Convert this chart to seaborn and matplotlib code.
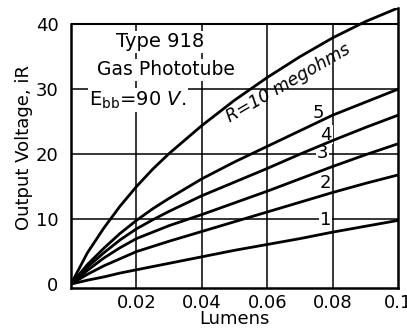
import matplotlib
matplotlib.use("Agg")
import matplotlib.pyplot as plt
import seaborn as sns
import pandas as pd

lumens = [0, 0.005, 0.01, 0.015, 0.02, 0.025, 0.03, 0.04, 0.05, 0.06, 0.07, 0.08, 0.09, 0.1]
r10 = [0, 4.8, 8.6, 12.0, 15.0, 17.7, 20.1, 24.4, 28.3, 31.8, 35.0, 37.9, 40.4, 42.5]
r5 = [0, 3.0, 5.5, 7.8, 9.8, 11.6, 13.2, 16.2, 18.8, 21.2, 23.6, 26.0, 28.0, 30.0]
r4 = [0, 2.6, 4.8, 6.8, 8.5, 9.9, 11.2, 13.6, 15.7, 17.8, 20.0, 22.1, 24.1, 26.0]
r3 = [0, 2.1, 4.0, 5.6, 7.0, 8.0, 9.0, 10.7, 12.5, 14.3, 16.2, 18.1, 19.9, 21.6]
r2 = [0, 1.5, 2.8, 3.9, 5.0, 5.8, 6.6, 8.1, 9.6, 11.1, 12.6, 14.1, 15.5, 16.8]
r1 = [0, 0.6, 1.1, 1.7, 2.2, 2.7, 3.2, 4.2, 5.2, 6.1, 7.0, 8.0, 8.9, 9.8]
series_names = ["10", "5", "4", "3", "2", "1"]
x_ticks = [0.02, 0.04, 0.06, 0.08, 0.1]
x_tick_labels = ["0.02", "0.04", "0.06", "0.08", "0.1"]
y_ticks = [0, 10, 20, 30, 40]

rows = []
for name, vals in zip(series_names, [r10, r5, r4, r3, r2, r1]):
    for xv, yv in zip(lumens, vals):
        rows.append({"Lumens": xv, "V": yv, "R": name})
df = pd.DataFrame(rows)

sns.set_style("white")
plt.rcParams["font.family"] = ["DejaVu Sans"]
plt.rcParams.update({"text.color": "black", "axes.labelcolor": "black",
                     "xtick.color": "black", "ytick.color": "black"})

fig = plt.figure(figsize=(4.07, 3.36), dpi=100)
ax = fig.add_axes([71/407, 48/336, (398-71)/407, (288-8)/336])

sns.lineplot(data=df, x="Lumens", y="V", hue="R", palette=["black"]*6,
             legend=False, linewidth=2.0, ax=ax, zorder=3)

ax.set_xlim(0, 0.1)
ax.set_ylim(-0.6, 42.5)

# grid
for xv in x_ticks[:-1]:
    ax.plot([xv, xv], [-0.6, 40], color="black", lw=1.1, zorder=1)
for yv in [10, 20, 30]:
    ax.plot([0, 0.1], [yv, yv], color="black", lw=1.1, zorder=1)
ax.plot([0, 0.1], [40, 40], color="black", lw=1.5, zorder=1)

for s in ["left", "right", "bottom"]:
    ax.spines[s].set_linewidth(1.8)
    ax.spines[s].set_color("black")
ax.spines["top"].set_visible(False)
ax.spines["left"].set_bounds(-0.6, 40)

ax.set_xticks(x_ticks)
ax.set_xticklabels(x_tick_labels)
ax.set_yticks(y_ticks)
ax.tick_params(axis="both", labelsize=13, length=0, pad=4)
ax.tick_params(axis="y", length=5, direction="out", width=1)
ax.set_xlabel("Lumens", fontsize=13, labelpad=-1)
ax.set_ylabel("Output Voltage, iR", fontsize=13, labelpad=2)

bb = dict(facecolor="white", edgecolor="none", pad=1.0)
ax.text(0.0272, 37.3, "Type 918", fontsize=14, ha="center", va="center", bbox=bb, zorder=2)
ax.text(0.029, 33.0, "Gas Phototube", fontsize=13.5, ha="center", va="center", bbox=bb, zorder=2)
ax.text(0.0055, 28.3, r"E$_{\rm bb}$=$\it{90\ V.}$", fontsize=14, ha="left", va="center", bbox=bb, zorder=2)
ax.text(0.0665, 31.0, "R=10 megohms", fontsize=12.5, style="italic", rotation=30,
        ha="center", va="center", zorder=4)

labels_pos = [("5", 0.0755, 26.3), ("4", 0.078, 23.0), ("3", 0.0768, 20.2),
              ("2", 0.0778, 15.6), ("1", 0.0778, 9.9)]
for lab, xv, yv in labels_pos:
    ax.text(xv, yv, lab, fontsize=13, ha="center", va="center",
            bbox=dict(facecolor="white", edgecolor="none", pad=0.5), zorder=2)

fig.savefig("out.png", dpi=100)
